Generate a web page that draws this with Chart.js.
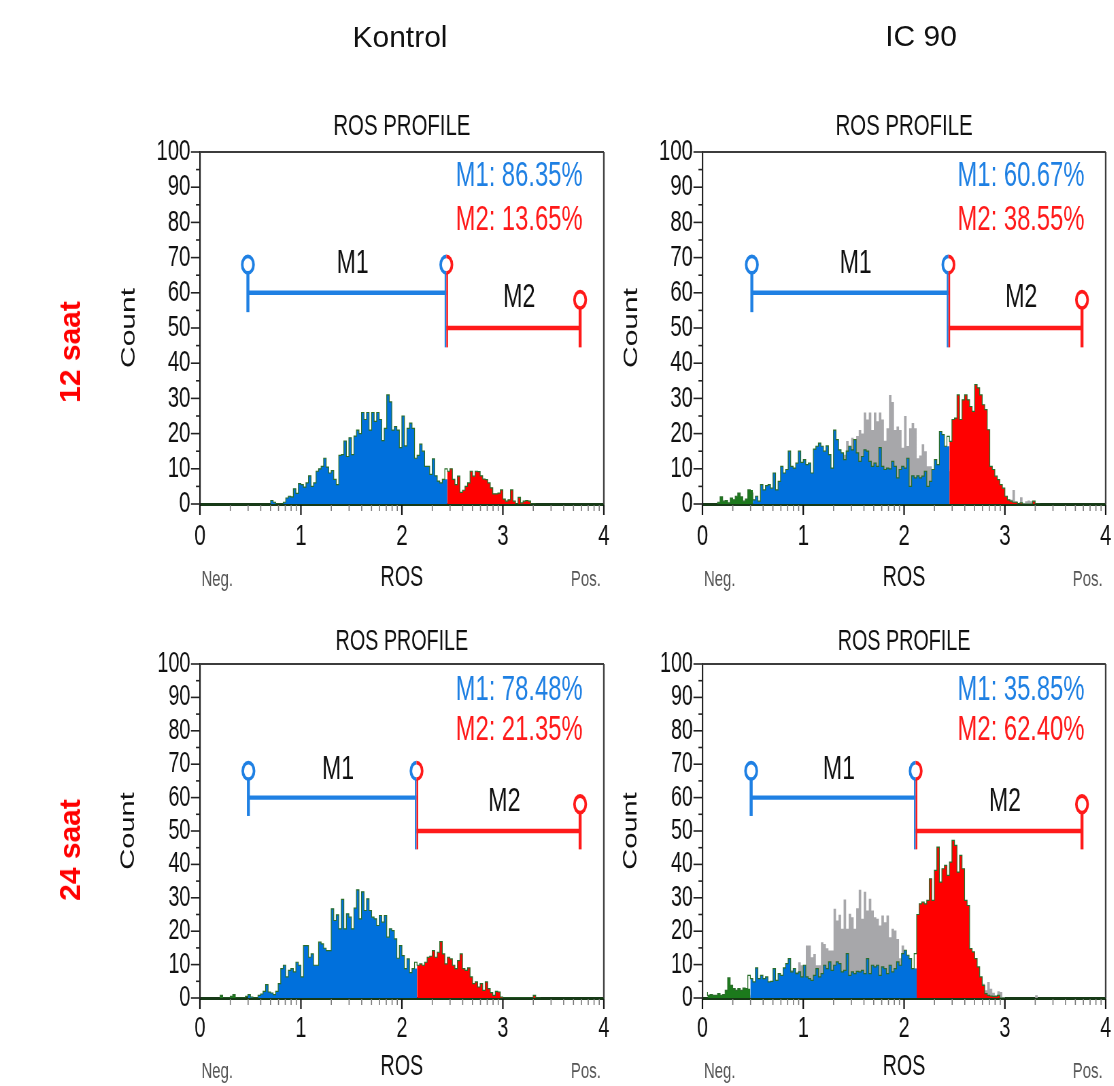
<!DOCTYPE html>
<html><head><meta charset="utf-8">
<script src="https://cdn.jsdelivr.net/npm/chart.js@4.4.1/dist/chart.umd.min.js"></script>
<style>
html,body{margin:0;padding:0;background:#fff;width:1114px;height:1086px;overflow:hidden;position:relative;}
#squish{position:absolute;left:0;top:0;width:1700px;height:1086px;transform-origin:0 0;transform:scaleX(0.68);}
#squish canvas{position:absolute;}
.lbl{position:absolute;font-family:'Liberation Sans',Arial,sans-serif;white-space:nowrap;line-height:1;transform:translate(-50%,-50%);color:#111;}
.row{font-weight:bold;color:#ff0000;font-size:30px;transform:translate(-50%,-50%) rotate(-90deg);}
</style></head><body>
<div id="squish">
  <canvas id="c1" width="894" height="497" style="left:24px;top:102px"></canvas>
  <canvas id="c2" width="893" height="497" style="left:763px;top:102px"></canvas>
  <canvas id="c3" width="894" height="472" style="left:24px;top:614px"></canvas>
  <canvas id="c4" width="893" height="472" style="left:763px;top:614px"></canvas>
</div>
<div class="lbl" style="left:400px;top:37px;font-size:30px">Kontrol</div>
<div class="lbl" style="left:921px;top:36px;font-size:30px">IC 90</div>
<div class="lbl row" style="left:70px;top:352px">12 saat</div>
<div class="lbl row" style="left:70px;top:850px">24 saat</div>
<script>
// ---------- data ----------
const BIN = 0.025;               // ROS units per histogram channel
const kontrol12Start = 0.70;
const kontrol12Counts = [
 0,1,0.5,0,0,0,0.5,1.7,2.2,2,
 4.3,3,5.8,5.5,4.8,6,8,5,6,9.3,
 10,10.7,13,10.5,8.8,9.5,7,5.5,13.8,14,
 17.9,13.5,18.8,14,19.3,21,20,26,24,26,
 21,26,23.5,26,24,18,21.5,31,29,21,
 22,21,16,25,16.5,21.5,23,21.5,13,13.8,
 17,15,10.7,10.7,8.4,12.8,8,6.5,6,7,
 10,9.3,10,7,5.5,7.9,3.3,3.9,5,6,
 9.3,7.9,9.3,9.2,8,7.1,6.9,6,4.6,2.9,
 2.9,3.1,4,1.4,0.8,1.2,4,0.8,0,1.9,
 0.3,0.8,1,0.8,0];
const ic90_12Start = 0.15;
const ic90_12Counts = [
 0,0.5,2,0.8,1,0.3,1.7,1.2,2.2,3.1,
 2,0.8,1.4,4,3.1,1.2,2.2,0.8,5.5,4,
 5.2,5.5,4.5,8.8,4,6.4,10.7,8.8,9.8,15,
 10.7,10.2,11.6,15,11.8,12.6,11.2,11.6,8.8,15.6,
 16.4,17.3,16.4,15,16.5,14,10.2,21,18.3,15.4,
 14.5,12.6,15,16.4,15.4,18.3,14.5,12.1,13.5,15.4,
 15,12.1,10.7,11.6,10.7,16,10.7,9.8,10.2,10,
 12.1,10.7,7.4,9.8,10.7,10.2,13,5,8,7.4,
 8,7.4,7.9,9.3,5,6.4,9.8,12.6,11.2,20.6,
 19.7,16.4,19.2,17.8,24,24.4,31,24,29.6,31,
 29.6,27.7,26.3,33.9,33,31,28.2,26.8,21.1,10.7,
 9.8,7.9,6.9,5.5,4.5,2.2,1.2,0.8,0.5,0.5,
 0,0.3,0,0,0,0,0.8,0];
const kontrol24Start = 0.20;
const kontrol24Counts = [
 0,0.8,0,0,0,0.5,1,0,0,0,
 0,0.5,1,0.3,0,0,0.8,1.2,2,4,
 1.8,1.5,1,2,4.3,8.8,9.8,6.3,8.3,8.8,
 7.8,10.7,9.8,6.3,15.7,15.7,12.2,13.2,9.8,9.8,
 16.7,16.2,14.9,14.2,14.2,26.7,23.2,24.9,20.7,29.5,
 20.7,25.2,24.2,20.7,26.9,32.4,23.7,31.8,26.2,29.7,
 26.2,24.2,23.7,21.7,24.7,22.7,24.7,18.2,20.7,20.2,
 17.7,11.9,15.7,12.7,8.8,11.7,7.6,8.8,10.7,9.8,
 10.2,9.8,10.7,12.2,12.5,14.2,12.2,13.7,16.9,13.2,
 10.2,12.2,11.7,9.8,8.8,11.2,13.2,8.8,8.3,9,
 6.3,4.3,4.8,3.3,4.3,2.3,4.8,2.8,1.6,0.8,
 2,1.8,0.3,0,0,0,0,0,0,0,
 0,0,0,0,0,0.8,0];
const ic90_24Start = 0.05;
const ic90_24Counts = [
 1.8,0.8,1,0.8,0.8,1.3,0.8,1,2.3,6,
 3.8,2.8,2.3,2.8,2.3,3,2.8,6.8,5.8,4.8,
 9,5.8,6.8,5.8,6.3,4.8,5,8.8,5.3,7.3,
 6.8,9,10.3,11.8,7.8,8.8,7.3,7.8,6.3,9.8,
 6.3,5.8,5.3,6.8,8.8,6.3,7.3,9.8,8.8,10.8,
 8.3,9.8,10.8,10.3,7.8,8.3,13.3,6.8,7.8,7.3,
 8,7.8,8.3,7.3,11.8,7.3,9.8,9.3,9.8,6.8,
 9.3,8.8,7.3,9.8,7.8,8.8,10.8,9.8,13.3,14.3,
 12.8,11.8,8.8,13.3,25,28.2,28.7,28.2,29.2,35.7,
 29.2,38.2,45.2,34.7,38.7,39.7,36.7,40.7,47.2,45.7,
 37.7,42.7,38.7,29.2,27.7,14.8,13.8,11.8,9.3,6.3,
 3.8,1.3,0.8,0.6,0.5,0.5,0.8,0];
// marker gates [M1 start, M1/M2 boundary, M2 end]
const gatesK12 = [0.475, 2.44, 3.765];
const gatesI12 = [0.49, 2.44, 3.765];
const gatesK24 = [0.48, 2.145, 3.765];
const gatesI24 = [0.483, 2.115, 3.765];
const m1Pct = ['86.35%', '60.67%', '78.48%', '35.85%'];
const m2Pct = ['13.65%', '38.55%', '21.35%', '62.40%'];
const xTickValues = [0, 1, 2, 3, 4];
const yTickValues = [0, 10, 20, 30, 40, 50, 60, 70, 80, 90, 100];

// ---------- drawing ----------
const S = 0.68; // horizontal squeeze of the panels
const FONT = "'Liberation Sans', Arial, sans-serif";
Chart.defaults.font.family = FONT;
const C = { blue:'#0070dc', red:'#ff0000', green:'#1c7a1c', gray:'#a7a7aa', outline:'#2a6e2a',
            gBlue:'#1f80e3', gRed:'#ff1a1a' };

function regionPoints(start, counts, lo, hi) {
  const pts = []; let last = null;
  counts.forEach((v, i) => {
    const left = start + i * BIN, c = left + BIN / 2;
    if (c >= lo && c < hi) { pts.push({x: left, y: v}); last = {x: left + BIN, y: v}; }
  });
  if (last) pts.push(last);
  return pts;
}
function allPoints(start, counts) {
  const pts = counts.map((v, i) => ({x: start + i * BIN, y: v}));
  pts.push({x: start + counts.length * BIN, y: 0});
  return pts;
}

const annot = {
  id: 'annot',
  afterDraw(chart, args, o) {
    const {ctx, chartArea: a, scales: {x, y}} = chart;
    const H = v => v / S;
    ctx.save();
    // frame top / right
    ctx.strokeStyle = '#3c3c3c'; ctx.lineWidth = 2;
    ctx.beginPath(); ctx.moveTo(a.left, a.top); ctx.lineTo(a.right, a.top); ctx.stroke();
    ctx.lineWidth = H(1.6);
    ctx.beginPath(); ctx.moveTo(a.right, a.top); ctx.lineTo(a.right, a.bottom); ctx.stroke();
    // y tick marks
    ctx.strokeStyle = '#222'; ctx.lineWidth = 1.6;
    for (let v = 0; v <= 100; v += 5) {
      const py = y.getPixelForValue(v);
      const len = H(v % 10 === 0 ? 9 : 4);
      ctx.beginPath(); ctx.moveTo(a.left - len, py); ctx.lineTo(a.left, py); ctx.stroke();
    }
    // x tick marks (decades)
    for (let d = 0; d <= 4; d++) for (let k = 1; k <= 9; k++) {
      if (d === 4 && k > 1) break;
      const px = x.getPixelForValue(d + Math.log10(k));
      const major = k === 1;
      ctx.strokeStyle = major ? '#111' : '#7a7a7a';
      ctx.lineWidth = H(major ? 1.5 : 1.1);
      ctx.beginPath(); ctx.moveTo(px, a.bottom + 1); ctx.lineTo(px, a.bottom + (major ? 11 : 7)); ctx.stroke();
    }
    // Neg. / Pos.
    ctx.fillStyle = '#555'; ctx.font = '22px ' + FONT; ctx.textBaseline = 'middle';
    ctx.textAlign = 'left'; ctx.fillText('Neg.', a.left + H(1.5), a.bottom + o.negY);
    ctx.textAlign = 'right'; ctx.fillText('Pos.', a.right - H(3), a.bottom + o.negY);
    // gate markers
    const g = o.gates;
    const xs = x.getPixelForValue(g[0]), xb = x.getPixelForValue(g[1]), xe = x.getPixelForValue(g[2]);
    const y1 = y.getPixelForValue(60), y2 = y.getPixelForValue(50);
    const yc1 = y.getPixelForValue(68), yc2 = y.getPixelForValue(58);
    const yLow1 = y.getPixelForValue(54.5), yLow2 = y.getPixelForValue(44.5);
    const r = 8.3;
    ctx.lineCap = 'butt';
    ctx.lineWidth = 4.4;
    ctx.strokeStyle = C.gBlue;
    ctx.beginPath(); ctx.moveTo(xs, y1); ctx.lineTo(xb, y1); ctx.stroke();
    ctx.strokeStyle = C.gRed;
    ctx.beginPath(); ctx.moveTo(xb, y2); ctx.lineTo(xe, y2); ctx.stroke();
    ctx.lineWidth = H(3);
    ctx.strokeStyle = C.gBlue;
    ctx.beginPath(); ctx.moveTo(xs, yLow1); ctx.lineTo(xs, yc1 + r); ctx.stroke();
    ctx.strokeStyle = C.gRed;
    ctx.beginPath(); ctx.moveTo(xe, yLow2); ctx.lineTo(xe, yc2 + r); ctx.stroke();
    ctx.lineWidth = H(1.7);
    ctx.strokeStyle = C.gBlue;
    ctx.beginPath(); ctx.moveTo(xb - H(0.85), yLow2); ctx.lineTo(xb - H(0.85), yc1 + r); ctx.stroke();
    ctx.strokeStyle = C.gRed;
    ctx.beginPath(); ctx.moveTo(xb + H(0.85), yLow2); ctx.lineTo(xb + H(0.85), yc1 + r); ctx.stroke();
    ctx.lineWidth = 3.8;
    ctx.strokeStyle = C.gBlue;
    ctx.beginPath(); ctx.arc(xs, yc1, r, 0, Math.PI * 2); ctx.stroke();
    ctx.beginPath(); ctx.arc(xb, yc1, r, Math.PI / 2, Math.PI * 1.5); ctx.stroke();
    ctx.strokeStyle = C.gRed;
    ctx.beginPath(); ctx.arc(xb, yc1, r, -Math.PI / 2, Math.PI / 2); ctx.stroke();
    ctx.beginPath(); ctx.arc(xe, yc2, r, 0, Math.PI * 2); ctx.stroke();
    // gate labels
    ctx.font = '34px ' + FONT; ctx.textAlign = 'center'; ctx.textBaseline = 'middle';
    [['M1', (g[0] + g[1]) / 2 + 0.055, 68.7], ['M2', (g[1] + g[2]) / 2 + 0.06, 59]].forEach(([t, xv, yv]) => {
      const px = x.getPixelForValue(xv), py = y.getPixelForValue(yv);
      const w = ctx.measureText(t).width;
      ctx.fillStyle = '#fff'; ctx.fillRect(px - w / 2 - 4, py - 19, w + 8, 38);
      ctx.fillStyle = '#111'; ctx.fillText(t, px, py + 1);
    });
    // percentages
    ctx.font = '35px ' + FONT;
    ctx.textAlign = 'right';
    ctx.fillStyle = C.gBlue; ctx.fillText('M1: ' + o.m1, x.getPixelForValue(3.79), y.getPixelForValue(o.pctY[0]));
    ctx.fillStyle = C.gRed;  ctx.fillText('M2: ' + o.m2, x.getPixelForValue(3.79), y.getPixelForValue(o.pctY[1]));
    ctx.restore();
  }
};

const rows = [
  { titleSize: 30, titlePad: {top: 7, bottom: 7}, tickSize: 30, xAxisH: 95, xTickPad: 15, xTitlePad: 4, negY: 76, countSize: 30, pctY: [93.2, 80.7] },
  { titleSize: 29, titlePad: {top: 11, bottom: 4.2}, tickSize: 29, xAxisH: 88, xTickPad: 14, xTitlePad: 1.5, negY: 74, countSize: 29, pctY: [92.2, 80.2] }
];

function makeChart(id, row, start, counts, gates, m1, m2, ovStart, ovCounts) {
  const R = rows[row];
  const datasets = [];
  const base = { type: 'line', stepped: 'after', pointRadius: 0, borderWidth: 0, fill: 'origin' };
  datasets.push({ ...base, data: allPoints(start, counts), fill: false, borderWidth: 1.2, borderColor: C.outline });
  datasets.push({ ...base, data: regionPoints(start, counts, gates[1], gates[2]), backgroundColor: C.red });
  datasets.push({ ...base, data: regionPoints(start, counts, gates[0], gates[1]), backgroundColor: C.blue });
  datasets.push({ ...base, data: regionPoints(start, counts, -Infinity, gates[0]), backgroundColor: C.green });
  datasets.push({ ...base, data: regionPoints(start, counts, gates[2], Infinity), backgroundColor: C.green });
  if (ovCounts) datasets.push({ ...base, data: allPoints(ovStart, ovCounts), backgroundColor: C.gray });
  new Chart(document.getElementById(id), {
    type: 'line',
    data: { datasets },
    options: {
      responsive: false, animation: false, devicePixelRatio: 1,
      layout: { padding: { left: 0, right: 30, top: 0, bottom: 0 } },
      plugins: {
        legend: { display: false }, tooltip: { enabled: false },
        title: { display: true, fullSize: false, text: 'ROS PROFILE', color: '#111', font: { size: R.titleSize, weight: 'normal' }, padding: R.titlePad },
        annot: { gates, m1, m2, negY: R.negY, pctY: R.pctY }
      },
      scales: {
        x: {
          type: 'linear', min: 0, max: 4, z: 1,
          afterFit: s => { s.height = R.xAxisH; },
          afterBuildTicks: s => { s.ticks = xTickValues.map(v => ({ value: v })); },
          ticks: { color: '#111', font: { size: R.tickSize }, padding: R.xTickPad, maxRotation: 0, autoSkip: false },
          grid: { display: false, drawTicks: false },
          border: { display: true, color: '#173a17', width: 3 },
          title: { display: true, text: 'ROS', color: '#111', font: { size: 29 }, padding: { top: 0, bottom: R.xTitlePad } }
        },
        y: {
          min: 0, max: 100,
          afterFit: s => { s.width = 270; },
          afterBuildTicks: s => { s.ticks = yTickValues.map(v => ({ value: v })); },
          ticks: { color: '#111', font: { size: R.tickSize }, padding: 14, autoSkip: false },
          grid: { display: false, drawTicks: false },
          border: { display: true, color: '#222', width: 2.2 },
          title: { display: true, text: 'Count', color: '#111', font: { size: R.countSize }, padding: { top: 148, bottom: 0 } }
        }
      }
    },
    plugins: [annot]
  });
}

makeChart('c1', 0, kontrol12Start, kontrol12Counts, gatesK12, m1Pct[0], m2Pct[0]);
makeChart('c2', 0, ic90_12Start, ic90_12Counts, gatesI12, m1Pct[1], m2Pct[1], kontrol12Start, kontrol12Counts);
makeChart('c3', 1, kontrol24Start, kontrol24Counts, gatesK24, m1Pct[2], m2Pct[2]);
makeChart('c4', 1, ic90_24Start, ic90_24Counts, gatesI24, m1Pct[3], m2Pct[3], kontrol24Start, kontrol24Counts);
</script>
</body></html>
